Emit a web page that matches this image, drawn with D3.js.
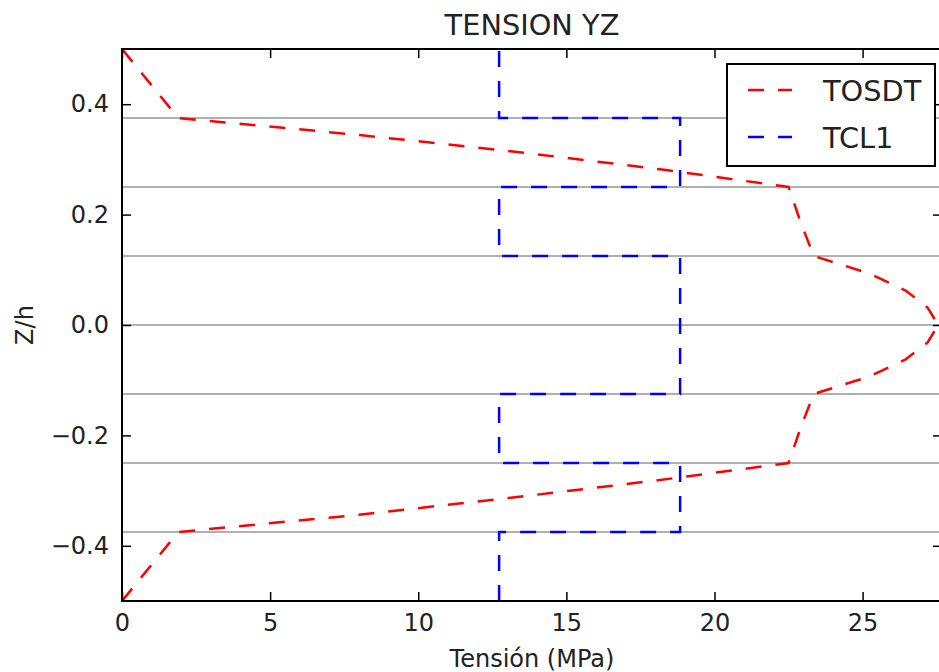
<!DOCTYPE html>
<meta charset="utf-8">
<style>
  body { margin: 0; background: #fff; }
  text { font-family: "DejaVu Sans", sans-serif; fill: #222; }
  .tick line { stroke: #000; stroke-width: 1.5px; }
  .tick text { font-size: 24px; }
  .layer { stroke: #b0b0b0; stroke-width: 2px; }
  .series { fill: none; stroke-width: 2.5px; stroke-dasharray: 16,14; }
</style>
<body>
<script src="https://d3js.org/d3.v7.min.js"></script>
<script>

// Z/h positions (bottom to top) and stresses for TOSDT
const tosdtZ = [-0.5, -0.375, -0.34375, -0.3125, -0.28125, -0.25, -0.1875, -0.125,
                -0.09375, -0.0625, -0.03125, 0, 0.03125, 0.0625, 0.09375,
                0.125, 0.1875, 0.25, 0.28125, 0.3125, 0.34375, 0.375, 0.5];
const tosdtValues = [0, 1.9, 8.0, 13.2, 18.1, 22.5, 22.9, 23.35,
                     25.2, 26.45, 27.2, 27.55, 27.2, 26.45, 25.2,
                     23.35, 22.9, 22.5, 18.3, 13.5, 8.1, 1.9, 0];

// TCL1 is a step profile, one value per layer
const tcl1Z = [-0.5, -0.375, -0.375, -0.25, -0.25, -0.125, -0.125, 0.125,
               0.125, 0.25, 0.25, 0.375, 0.375, 0.5];
const tcl1Values = [12.73, 12.73, 18.84, 18.84, 12.73, 12.73, 18.84, 18.84,
                    12.73, 12.73, 18.84, 18.84, 12.73, 12.73];

// layer interfaces
const layerBounds = [0.375, 0.25, 0.125, 0, -0.125, -0.25, -0.375];

const xTicks = [0, 5, 10, 15, 20, 25];
const yTicks = [-0.4, -0.2, 0.0, 0.2, 0.4];

const seriesNames = ["TOSDT", "TCL1"];
const seriesColors = ["#ff0000", "#0000ff"];

const width = 939, height = 672;
const plot = {left: 122, right: 942, top: 49, bottom: 601};

const x = d3.scaleLinear().domain([0, 27.68]).range([plot.left, plot.right]);
const y = d3.scaleLinear().domain([-0.5, 0.5]).range([plot.bottom, plot.top]);

const svg = d3.select("body").append("svg")
  .attr("width", width)
  .attr("height", height);

svg.append("defs").append("clipPath").attr("id", "clip")
  .append("rect")
  .attr("x", plot.left).attr("y", plot.top)
  .attr("width", plot.right - plot.left).attr("height", plot.bottom - plot.top);

const area = svg.append("g").attr("clip-path", "url(#clip)");

// gray layer lines
area.selectAll(".layer")
  .data(layerBounds)
  .enter().append("line")
  .attr("class", "layer")
  .attr("x1", plot.left).attr("x2", plot.right)
  .attr("y1", d => y(d)).attr("y2", d => y(d));

const line = d3.line()
  .x(d => x(d[0]))
  .y(d => y(d[1]));

const tosdt = tosdtValues.map((v, i) => [v, tosdtZ[i]]);
const tcl1 = tcl1Values.map((v, i) => [v, tcl1Z[i]]);

[tosdt, tcl1].forEach((pts, i) => {
  area.append("path")
    .datum(pts)
    .attr("class", "series")
    .attr("stroke", seriesColors[i])
    .attr("d", line);
});

// axes, ticks pointing inward on all four sides
svg.append("g")
  .attr("transform", "translate(0," + plot.bottom + ")")
  .call(d3.axisBottom(x).tickValues(xTicks).tickSize(-9).tickSizeOuter(0).tickPadding(13)
    .tickFormat(d3.format("d")))
  .call(g => g.select(".domain").remove());

svg.append("g")
  .attr("transform", "translate(0," + plot.top + ")")
  .call(d3.axisTop(x).tickValues(xTicks).tickSize(-9).tickSizeOuter(0).tickFormat(""))
  .call(g => g.select(".domain").remove());

svg.append("g")
  .attr("transform", "translate(" + plot.left + ",0)")
  .call(d3.axisLeft(y).tickValues(yTicks).tickSize(-9).tickSizeOuter(0).tickPadding(13)
    .tickFormat(d => d3.format(".1f")(d).replace("-", "\u2212")))
  .call(g => g.select(".domain").remove());

svg.append("g")
  .attr("transform", "translate(" + plot.right + ",0)")
  .call(d3.axisRight(y).tickValues(yTicks).tickSize(-9).tickSizeOuter(0).tickFormat(""))
  .call(g => g.select(".domain").remove());

svg.selectAll(".tick text").style("font-family", "DejaVu Sans").attr("fill", "#222");

// spines
svg.append("rect")
  .attr("x", plot.left).attr("y", plot.top)
  .attr("width", plot.right - plot.left).attr("height", plot.bottom - plot.top)
  .attr("fill", "none").attr("stroke", "#000").attr("stroke-width", 2);

// title and axis labels
svg.append("text")
  .attr("x", (plot.left + plot.right) / 2).attr("y", 35)
  .attr("text-anchor", "middle")
  .style("font-size", "28.8px")
  .text("TENSION YZ");

svg.append("text")
  .attr("x", (plot.left + plot.right) / 2).attr("y", 667)
  .attr("text-anchor", "middle")
  .style("font-size", "24px")
  .text("Tensión (MPa)");

svg.append("text")
  .attr("transform", "translate(33," + ((plot.top + plot.bottom) / 2) + ") rotate(-90)")
  .attr("text-anchor", "middle")
  .style("font-size", "24px")
  .text("Z/h");

// legend
const legend = svg.append("g").attr("class", "legend");
legend.append("rect")
  .attr("x", 727).attr("y", 64).attr("width", 208).attr("height", 102)
  .attr("fill", "#fff").attr("stroke", "#000").attr("stroke-width", 2);

const entry = legend.selectAll(".entry")
  .data(seriesNames)
  .enter().append("g")
  .attr("class", "entry")
  .attr("transform", (d, i) => "translate(0," + (90 + i * 47) + ")");

entry.append("line")
  .attr("class", "series")
  .attr("x1", 748).attr("x2", 792)
  .attr("stroke", (d, i) => seriesColors[i]);

entry.append("text")
  .attr("x", 823).attr("y", 11)
  .style("font-size", "28.8px")
  .text(d => d);

</script>
</body>
